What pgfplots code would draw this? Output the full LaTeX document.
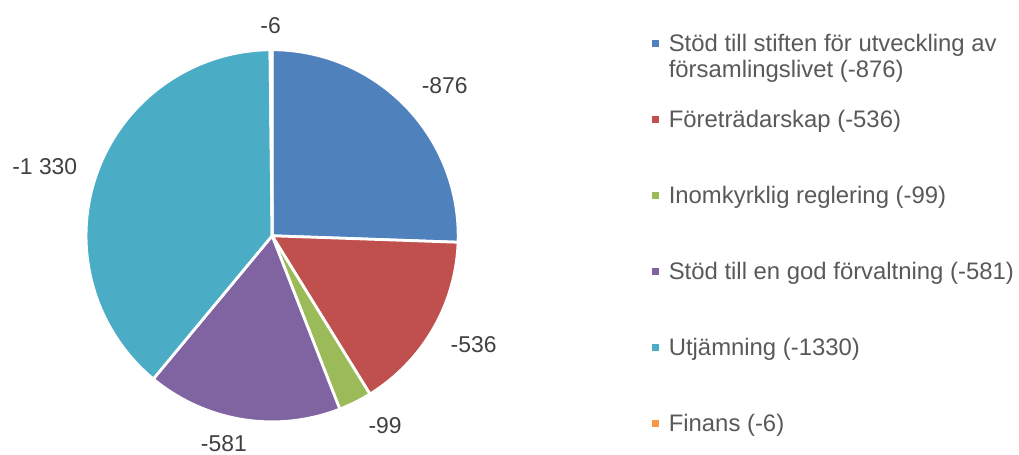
\documentclass[border=0pt]{standalone}
\usepackage{pgfplots}
\pgfplotsset{compat=1.18}
\usepackage{pgfplotstable}
\usepackage{fontspec}
\setmainfont{Liberation Sans}
\definecolor{c1}{HTML}{4F81BD}
\definecolor{c2}{HTML}{C0504D}
\definecolor{c3}{HTML}{9BBB59}
\definecolor{c4}{HTML}{8064A2}
\definecolor{c5}{HTML}{4BACC6}
\definecolor{c6}{HTML}{F79646}
\definecolor{lab}{HTML}{404040}
\definecolor{leg}{HTML}{595959}
\pgfplotstableread{
value
876
536
99
581
1330
6
}\piedata
\newcommand\bigfont{\fontsize{23}{26}\selectfont}
\newcommand\legfont{\fontsize{24}{26}\selectfont}
\begin{document}
\begin{tikzpicture}
\pgfplotstablegetelem{0}{value}\of\piedata \edef\va{\pgfplotsretval}
\pgfplotstablegetelem{1}{value}\of\piedata \edef\vb{\pgfplotsretval}
\pgfplotstablegetelem{2}{value}\of\piedata \edef\vc{\pgfplotsretval}
\pgfplotstablegetelem{3}{value}\of\piedata \edef\vd{\pgfplotsretval}
\pgfplotstablegetelem{4}{value}\of\piedata \edef\ve{\pgfplotsretval}
\pgfplotstablegetelem{5}{value}\of\piedata \edef\vf{\pgfplotsretval}
\pgfmathsetmacro\tot{\va+\vb+\vc+\vd+\ve+\vf}
\pgfmathsetmacro\aA{90}
\pgfmathsetmacro\aB{\aA-\va/\tot*360}
\pgfmathsetmacro\aC{\aB-\vb/\tot*360}
\pgfmathsetmacro\aD{\aC-\vc/\tot*360}
\pgfmathsetmacro\aE{\aD-\vd/\tot*360}
\pgfmathsetmacro\aF{\aE-\ve/\tot*360}
\pgfmathsetmacro\aG{\aF-\vf/\tot*360}
\def\cx{273.5}\def\cy{220}\def\R{187}
\begin{axis}[x=1pt,y=1pt,xmin=0,xmax=1019,ymin=0,ymax=457,
  hide axis, clip=false, samples=120,
  legend cell align=left,
  legend image code/.code={\fill[#1,draw=none] (0pt,-3.5pt) rectangle (7pt,3.5pt);},
  legend style={draw=none, fill=none, at={(axis cs:655,425)}, anchor=north west,
    font=\legfont, text=leg, row sep=53.5pt, column sep=8pt, inner sep=0pt,
    nodes={inner sep=2pt}},
  every axis plot/.append style={draw=white, line width=2.8pt, line join=round}]
\path (axis cs:0,0) rectangle (axis cs:1019,457);
\addplot[fill=c1, domain=\aB:\aA] ({\cx+\R*cos(x)},{\cy+\R*sin(x)}) -- (axis cs:\cx,\cy) -- cycle;
\addlegendentry{\raisebox{0pt}[\height][\dimexpr\depth-4pt\relax]{\parbox[t]{350pt}{Stöd till stiften för utveckling av\\församlingslivet (-876)}}}
\addplot[fill=c2, domain=\aC:\aB] ({\cx+\R*cos(x)},{\cy+\R*sin(x)}) -- (axis cs:\cx,\cy) -- cycle;
\addlegendentry{Företrädarskap (-536)}
\addplot[fill=c3, domain=\aD:\aC] ({\cx+\R*cos(x)},{\cy+\R*sin(x)}) -- (axis cs:\cx,\cy) -- cycle;
\addlegendentry{Inomkyrklig reglering (-99)}
\addplot[fill=c4, domain=\aE:\aD] ({\cx+\R*cos(x)},{\cy+\R*sin(x)}) -- (axis cs:\cx,\cy) -- cycle;
\addlegendentry{Stöd till en god förvaltning (-581)}
\addplot[fill=c5, domain=\aF:\aE] ({\cx+\R*cos(x)},{\cy+\R*sin(x)}) -- (axis cs:\cx,\cy) -- cycle;
\addlegendentry{Utjämning (-1330)}
\addplot[fill=c6, domain=\aG:\aF, samples=10] ({\cx+\R*cos(x)},{\cy+\R*sin(x)}) -- (axis cs:\cx,\cy) -- cycle;
\addlegendentry{Finans (-6)}
\begin{scope}[every node/.style={font=\bigfont, text=lab, inner sep=0pt}]
\node at (axis cs:447,371) {-876};
\node at (axis cs:476,111) {-536};
\node at (axis cs:387,29) {-99};
\node at (axis cs:225,11) {-581};
\node at (axis cs:45,290) {-1~330};
\node at (axis cs:272,431) {-6};
\end{scope}
\end{axis}
\end{tikzpicture}
\end{document}
